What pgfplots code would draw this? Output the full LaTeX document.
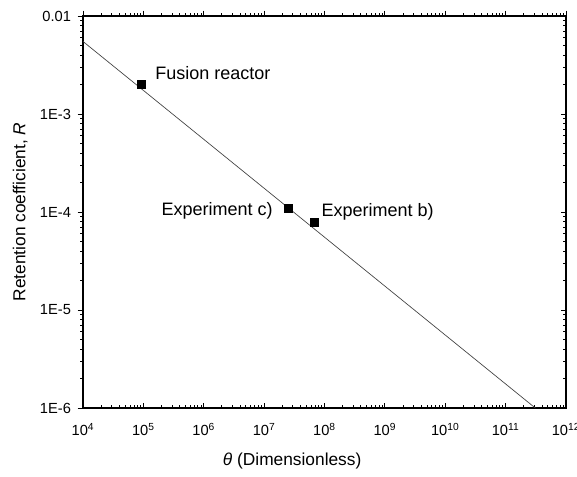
\documentclass[border=0pt]{standalone}
\usepackage{fontspec}
\setmainfont{Liberation Sans}
\usepackage{pgfplots}
\pgfplotsset{compat=1.18}

\begin{document}
\begin{tikzpicture}
\useasboundingbox (-62.25pt,-51pt) rectangle (370.5pt,306pt);

% top and left ticks point outwards
\begin{loglogaxis}[
    width=362.25pt, height=294pt, scale only axis,
    xmin=1e4, xmax=1e12, ymin=1e-6, ymax=1e-2,
    xtick={1e4,1e5,1e6,1e7,1e8,1e9,1e10,1e11,1e12},
    ytick={1e-6,1e-5,1e-4,1e-3,1e-2},
    axis line style={line width=0.9pt},
    tick style={black, line width=0.7pt},
    major tick length=4pt, minor tick length=2.2pt,
    tick align=outside,
    xtick pos=top, ytick pos=left,
    xticklabels={}, yticklabels={}]
\end{loglogaxis}

\begin{loglogaxis}[
    width=362.25pt, height=294pt, scale only axis,
    xmin=1e4, xmax=1e12, ymin=1e-6, ymax=1e-2,
    xtick={1e4,1e5,1e6,1e7,1e8,1e9,1e10,1e11,1e12},
    ytick={1e-6,1e-5,1e-4,1e-3,1e-2},
    axis line style={line width=0.9pt},
    tick style={black, line width=0.7pt},
    major tick length=4pt, minor tick length=2.2pt,
    tick align=inside,
    xtick pos=bottom, ytick pos=right,
    xticklabel pos=bottom, yticklabel pos=left,
    ticklabel style={font=\fontsize{11}{13}\selectfont},
    xticklabels={10\textsuperscript{4},10\textsuperscript{5},10\textsuperscript{6},10\textsuperscript{7},10\textsuperscript{8},10\textsuperscript{9},10\textsuperscript{10},10\textsuperscript{11},10\textsuperscript{12}},
    yticklabels={1E-6,1E-5,1E-4,1E-3,0.01},
    xticklabel style={yshift=-8pt},
    yticklabel style={xshift=-5.5pt},
    xlabel={\textit{θ} (Dimensionless)},
    ylabel={Retention coefficient, \textit{R}},
    label style={font=\fontsize{13}{15}\selectfont},
    xlabel style={at={(axis description cs:0.433,0)}, anchor=center, yshift=-40pt},
    ylabel style={at={(axis description cs:-0.13,0.5)}, anchor=center},
]
    % fitted line
    \addplot[black!75, line width=0.5pt] coordinates {(1e4,5.5e-3) (3.1e11,1e-6)};

    % cases
    \addplot[only marks, mark=square*, mark size=3pt, black] coordinates {
        (9.4e4,2.0e-3) (2.5e7,1.09e-4) (6.7e7,7.8e-5)
    };

    \node[anchor=base west, inner sep=0, font=\fontsize{13.5}{16}\selectfont] at (axis cs:1.56e5,2.27e-3) {Fusion reactor};
    \node[anchor=base east, inner sep=0, font=\fontsize{13.5}{16}\selectfont] at (axis cs:1.40e7,9.2e-5) {Experiment c)};
    \node[anchor=base west, inner sep=0, font=\fontsize{13.5}{16}\selectfont] at (axis cs:8.9e7,9.0e-5) {Experiment b)};
\end{loglogaxis}
\end{tikzpicture}
\end{document}
